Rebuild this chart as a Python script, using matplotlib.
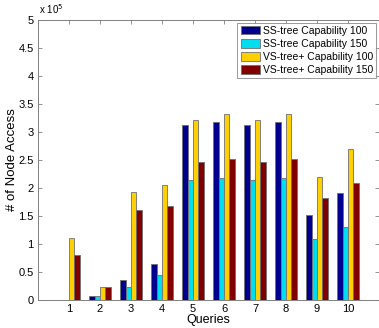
import matplotlib
matplotlib.use("Agg")
import matplotlib.pyplot as plt
import numpy as np

plt.rcParams['font.family'] = ['Liberation Sans', 'DejaVu Sans']

queries = [1, 2, 3, 4, 5, 6, 7, 8, 9, 10]
series_names = ["SS-tree Capability 100", "SS-tree Capability 150",
                "VS-tree+ Capability 100", "VS-tree+ Capability 150"]
ss100 = [0.005, 0.08, 0.35, 0.65, 3.12, 3.17, 3.12, 3.17, 1.51, 1.91]
ss150 = [0.003, 0.07, 0.23, 0.44, 2.14, 2.18, 2.14, 2.18, 1.09, 1.31]
vs100 = [1.11, 0.23, 1.92, 2.05, 3.22, 3.33, 3.22, 3.33, 2.19, 2.69]
vs150 = [0.80, 0.23, 1.61, 1.68, 2.47, 2.51, 2.47, 2.51, 1.83, 2.09]
yticks = [0, 0.5, 1, 1.5, 2, 2.5, 3, 3.5, 4, 4.5, 5]
ytick_labels = ['0', '0.5', '1', '1.5', '2', '2.5', '3', '3.5', '4', '4.5', '5']

colors = ['#00008F', '#00DDEE', '#FFD000', '#800000']

fig = plt.figure(figsize=(3.79, 3.28), dpi=100)
ax = fig.add_axes([38/379, 28/328, 341/379, 280/328])

x = np.array(queries, dtype=float)
w = 0.175
for i, (vals, c, name) in enumerate(zip([ss100, ss150, vs100, vs150], colors, series_names)):
    ax.bar(x + (i - 1.5) * w, vals, width=w, color=c, edgecolor='#707070',
           linewidth=0.6, label=name)

ax.set_xlim(0, 11)
ax.set_ylim(0, 5)
ax.set_xticks(queries)
ax.set_xticklabels([str(q) for q in queries])
ax.set_yticks(yticks)
ax.set_yticklabels(ytick_labels)
ax.tick_params(direction='in', top=True, right=True, labelsize=8, length=3,
               color='#808080', width=0.6, pad=3)
for s in ax.spines.values():
    s.set_color('#808080')
    s.set_linewidth(0.7)

ax.set_xlabel('Queries', fontsize=9, labelpad=0)
ax.set_ylabel('# of Node Access', fontsize=9.5, labelpad=0)
fig.text(39/379, 1 - 16/328, r'x 10$^{5}$', fontsize=7, va='bottom', ha='left')

leg = ax.legend(loc='upper right', fontsize=7.5, frameon=True, fancybox=False,
                edgecolor='#808080', borderpad=0.3, labelspacing=0.3,
                handlelength=1.9, handleheight=0.9, handletextpad=0.25,
                borderaxespad=0.25)
leg.get_frame().set_linewidth(0.7)

fig.savefig('out.png', dpi=100)
